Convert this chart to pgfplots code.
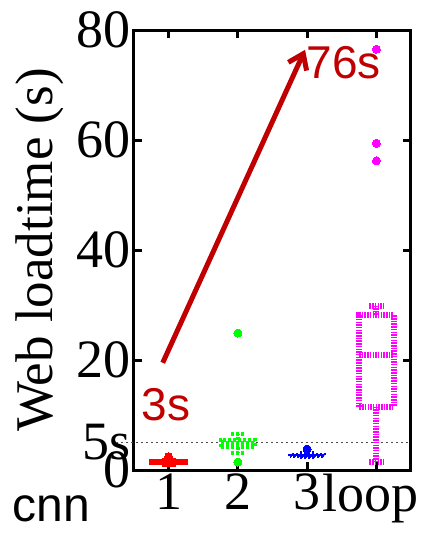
\documentclass[border=0pt]{standalone}
\usepackage{fontspec}
\setmainfont{Liberation Serif}
\usepackage{pgfplots}
\pgfplotsset{compat=1.18}
\usepgfplotslibrary{statistics}
\usetikzlibrary{arrows.meta}
\newfontfamily\lsans{Liberation Sans}
\definecolor{annred}{RGB}{192,0,0}
\definecolor{mag}{RGB}{255,0,255}
\definecolor{grn}{RGB}{0,255,0}
\begin{document}
\begin{tikzpicture}
\begin{axis}[
  at={(0,0)}, anchor=south west,
  scale only axis, width=277pt, height=440pt,
  xmin=0.5, xmax=4.5, ymin=0, ymax=80,
  xtick={1,2,3,4}, xticklabels={1,2,3,\hspace*{-12pt}loop},
  ytick={0,20,40,60,80},
  extra y ticks={5}, extra y tick labels={5s},
  extra y tick style={major tick length=0pt},
  /pgf/number format/assume math mode=true,
  tick label style={font=\fontsize{54}{58}\selectfont},
  label style={font=\fontsize{53}{58}\selectfont},
  ylabel={Web loadtime (s)},
  ylabel style={at={(axis description cs:-0.34,0.5)}, anchor=center},
  axis line style={line width=3pt},
  tick style={line width=3pt, black},
  major tick length=8pt,
  tick align=inside,
  clip=false,
  boxplot/draw direction=y,
  boxplot/box extend=0.5, boxplot/whisker extend=0.2,
]
% 5 s reference
\draw[black!70, line width=1.5pt, dash pattern=on 2pt off 3pt] ([xshift=-18pt]axis cs:0.5,5) -- (axis cs:4.5,5);

% cnn 1
\addplot[red, solid, line width=4pt, mark=*, mark size=4pt, mark options={solid, fill=red, line width=0pt},
  boxplot prepared={draw position=1, lower whisker=1.0, lower quartile=1.2, median=1.4, upper quartile=1.6, upper whisker=1.9}]
  table[row sep=\\, y index=0] {d\\ 2.4\\};
% 2
\addplot[grn, line width=4pt, dash pattern=on 3pt off 2pt, mark=*, mark size=4pt, mark options={solid, fill=grn, line width=0pt},
  boxplot prepared={draw position=2, lower whisker=3.1, lower quartile=4.2, median=4.9, upper quartile=5.5, upper whisker=6.5}]
  table[row sep=\\, y index=0] {d\\ 1.45\\ 24.9\\};
% 3
\addplot[blue, line width=3pt, dash pattern=on 2pt off 2pt, mark=*, mark size=4pt, mark options={solid, fill=blue, line width=0pt},
  boxplot prepared={draw position=3, lower whisker=2.3, lower quartile=2.5, median=2.7, upper quartile=2.9, upper whisker=3.1}]
  table[row sep=\\, y index=0] {d\\ 3.8\\};
% loop
\addplot[mag, line width=6pt, dash pattern=on 1.5pt off 1.2pt, mark=*, mark size=4pt, mark options={solid, fill=mag, line width=0pt},
  boxplot prepared={draw position=4, lower whisker=1.5, lower quartile=11.5, median=20.9, upper quartile=28.2, upper whisker=29.8}]
  table[row sep=\\, y index=0] {d\\ 56.2\\ 59.4\\ 76.5\\};

\draw[annred, line width=5pt, -{Straight Barb[length=14pt,width=20pt]}] (axis cs:0.915,19.5) -- (axis cs:2.97,76.4);
\node[font=\lsans\fontsize{46}{50}\selectfont, text=annred] at (axis cs:0.96,11.8) {3s};
\node[font=\lsans\fontsize{46}{50}\selectfont, text=annred] at (axis cs:3.53,74) {76s};
\node[font=\lsans\fontsize{48}{52}\selectfont] at (axis cs:-0.69,-7.0) {cnn};
\end{axis}
\pgfresetboundingbox
\useasboundingbox (-134pt,-65pt) rectangle (295pt,470pt);
\end{tikzpicture}
\end{document}
